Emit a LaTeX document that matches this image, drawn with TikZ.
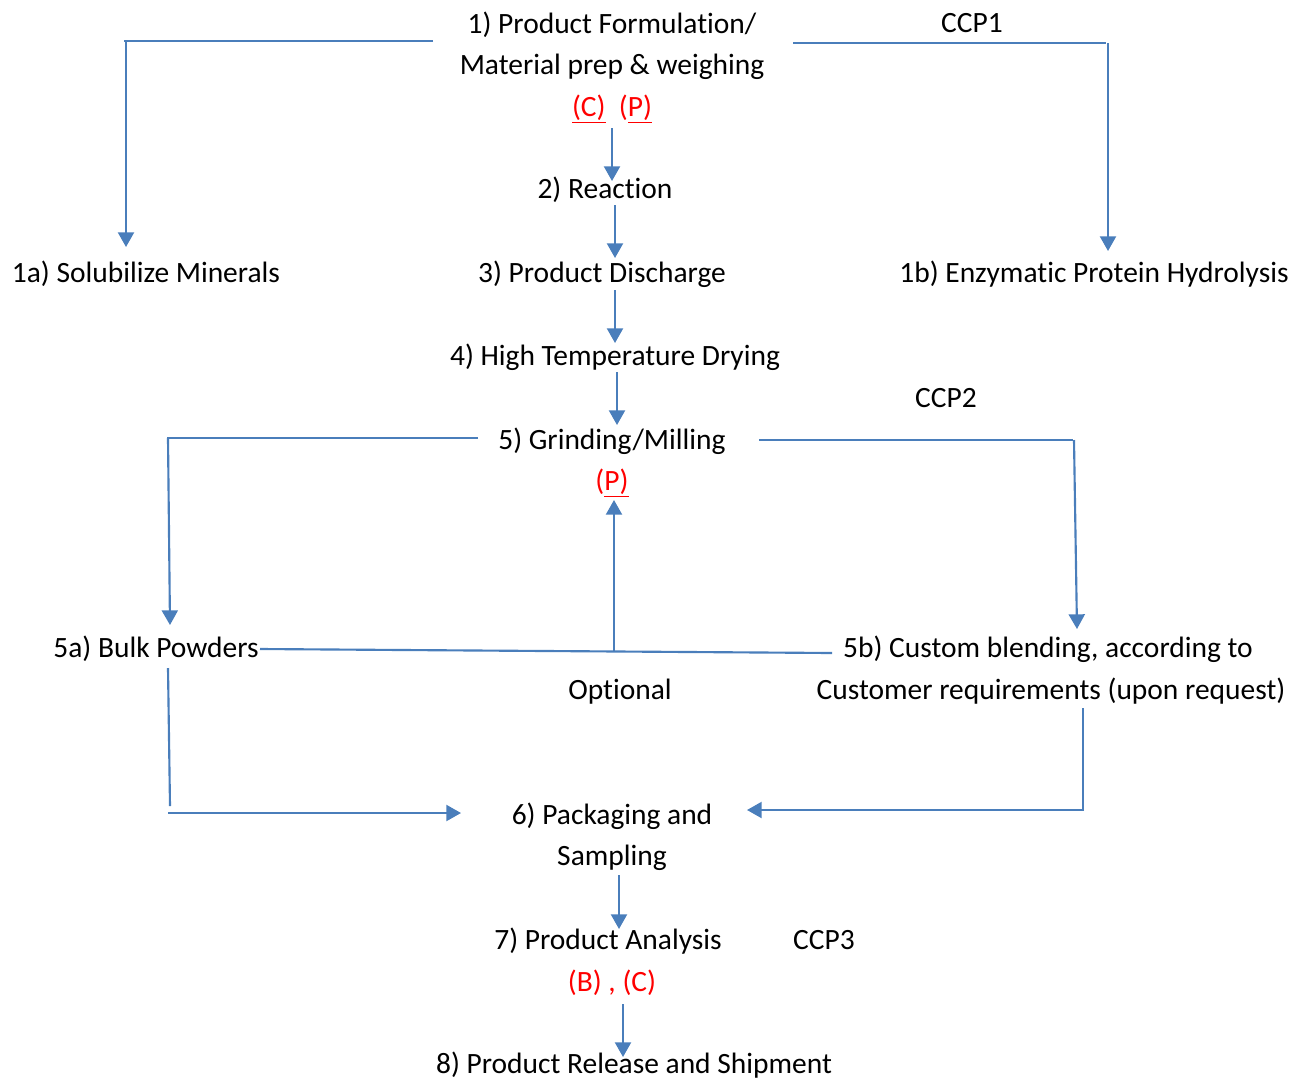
\documentclass[tikz,border=0pt]{standalone}
\usepackage{fontspec}
\setmainfont[Ligatures=NoCommon]{Carlito}
\usetikzlibrary{arrows.meta}
\definecolor{lineblue}{HTML}{4A7EBB}
\definecolor{hred}{HTML}{FF0000}
\tikzset{
  lbl/.style={anchor=base, inner sep=0pt, font=\fontsize{22.1pt}{26pt}\selectfont},
  redlbl/.style={lbl, text=hred},
  conn/.style={draw=lineblue, line width=1.6pt},
  arr/.style={conn, -{Triangle[width=12pt,length=11pt]}}
}
\begin{document}
\begin{tikzpicture}[x=0.75pt,y=-0.75pt]
\useasboundingbox (0,0) rectangle (1307,1079);
% texts
\node[lbl] (n1a) at (612,33) {1) Product Formulation/};
\node[lbl] (n1b) at (612,74) {Material prep \& weighing};
\node[redlbl] (n1c) at (612,116) {\underline{(C)}\ \ (\underline{P)}};
\node[lbl] (ccp1) at (972,32) {CCP1};
\node[lbl] (n2) at (605,198) {2) Reaction};
\node[lbl] (n3) at (602,282) {3) Product Discharge};
\node[lbl] (s1a) at (146,282) {1a) Solubilize Minerals};
\node[lbl] (s1b) at (1094,282) {1b) Enzymatic Protein Hydrolysis};
\node[lbl] (n4) at (615,365) {4) High Temperature Drying};
\node[lbl] (ccp2) at (946,407) {CCP2};
\node[lbl] (n5) at (612,449) {5) Grinding/Milling};
\node[redlbl] (n5p) at (612,490) {(\underline{P)}};
\node[lbl] (s5a) at (156,657) {5a) Bulk Powders};
\node[lbl] (s5b1) at (1048,657) {5b) Custom blending, according to};
\node[lbl] (s5b2) at (1051,699) {Customer requirements (upon request)};
\node[lbl] (opt) at (620,699) {Optional};
\node[lbl] (n6a) at (612,824) {6) Packaging and};
\node[lbl] (n6b) at (612,865) {Sampling};
\node[lbl] (n7) at (608,949) {7) Product Analysis};
\node[lbl] (ccp3) at (824,949) {CCP3};
\node[redlbl] (n7c) at (612,991) {(B) , (C)};
\node[lbl] (n8) at (634,1073) {8) Product Release and Shipment};
% connector points
\coordinate (a1) at (433,41); \coordinate (a2) at (124,41);
\coordinate (a3) at (126,40); \coordinate (a4) at (126,247);
\coordinate (b1) at (793,43); \coordinate (b2) at (1106,43);
\coordinate (b3) at (1108,43); \coordinate (b4) at (1108,251);
\coordinate (c1) at (612,128); \coordinate (c2) at (612,181);
\coordinate (d1) at (615,205); \coordinate (d2) at (615,258);
\coordinate (e1) at (615,290); \coordinate (e2) at (615,343);
\coordinate (f1) at (617,372); \coordinate (f2) at (617,425);
\coordinate (g1) at (478,438); \coordinate (g2) at (167,438);
\coordinate (g3) at (168,438); \coordinate (g4) at (170,625);
\coordinate (h1) at (759,440); \coordinate (h2) at (1073,440);
\coordinate (h3) at (1074,440); \coordinate (h4) at (1077,629);
\coordinate (i1) at (260,649); \coordinate (i2) at (832,653);
\coordinate (i3) at (614,651); \coordinate (i4) at (614,500);
\coordinate (j1) at (168,668); \coordinate (j2) at (170,806);
\coordinate (j3) at (168,813); \coordinate (j4) at (461,813);
\coordinate (k1) at (1083,708); \coordinate (k2) at (1083,811);
\coordinate (k3) at (1084,810); \coordinate (k4) at (747,810);
\coordinate (l1) at (619,875); \coordinate (l2) at (619,929);
\coordinate (m1) at (623,1004); \coordinate (m2) at (623,1057);
% connectors
\draw[conn] (a1) -- (a2);
\draw[arr] (a3) -- (a4);
\draw[conn] (b1) -- (b2);
\draw[arr] (b3) -- (b4);
\draw[arr] (c1) -- (c2);
\draw[arr] (d1) -- (d2);
\draw[arr] (e1) -- (e2);
\draw[arr] (f1) -- (f2);
\draw[conn] (g1) -- (g2);
\draw[arr] (g3) -- (g4);
\draw[conn] (h1) -- (h2);
\draw[arr] (h3) -- (h4);
\draw[conn] (i1) -- (i2);
\draw[arr] (i3) -- (i4);
\draw[conn] (j1) -- (j2);
\draw[arr] (j3) -- (j4);
\draw[conn] (k1) -- (k2);
\draw[arr] (k3) -- (k4);
\draw[arr] (l1) -- (l2);
\draw[arr] (m1) -- (m2);
\end{tikzpicture}
\end{document}
